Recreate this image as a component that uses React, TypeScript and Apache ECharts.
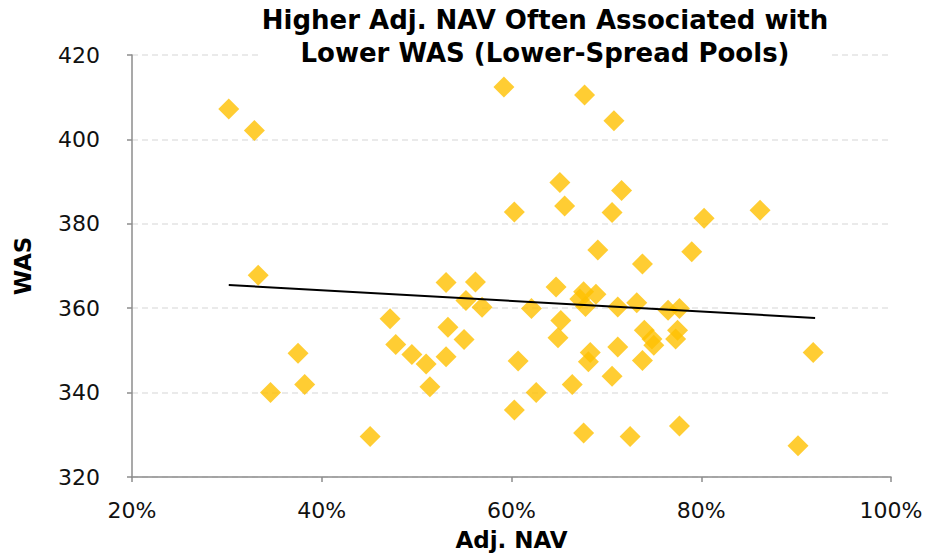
import React, { useEffect, useRef } from "react";
import * as echarts from "echarts";

// Adj. NAV (%) and WAS for each pool
const adjNav = [
  30.2, 32.9, 33.3, 34.6, 37.5, 38.2, 45.1, 47.2, 47.8, 49.5, 51.0, 51.4, 53.1, 53.3, 53.1, 55.2,
  55.0, 56.2, 56.9, 59.2, 60.3, 60.7, 60.3, 62.1, 62.6, 64.7, 65.1, 65.6, 65.2, 64.9, 66.4, 67.6,
  67.7, 67.6, 67.2, 67.8, 68.9, 68.3, 68.1, 69.1, 70.8, 70.6, 71.6, 71.2, 71.2, 70.6, 72.5, 73.2,
  73.8, 74.0, 74.8, 75.0, 73.8, 76.5, 77.7, 77.5, 77.3, 77.7, 79.0, 80.3, 86.2, 90.2, 91.8,
];
const was = [
  407.2, 402.1, 367.8, 340.0, 349.3, 341.9, 329.6, 357.5, 351.4, 349.0, 346.8, 341.4, 366.1, 355.5,
  348.5, 361.8, 352.6, 366.2, 360.2, 412.4, 382.8, 347.5, 335.9, 359.9, 340.0, 365.0, 389.8, 384.2,
  357.1, 353.0, 341.9, 330.4, 410.5, 363.9, 362.2, 360.4, 363.3, 349.5, 347.3, 373.8, 404.4, 382.7,
  387.9, 360.3, 350.8, 343.9, 329.6, 361.3, 370.5, 354.8, 352.7, 351.2, 347.6, 359.5, 359.9, 354.8,
  352.7, 332.1, 373.4, 381.3, 383.2, 327.4, 349.5,
];

// Linear trend endpoints (Adj. NAV %, WAS)
const trendNav = [30.2, 92.0];
const trendWas = [365.5, 357.7];

const xTicks = { min: 20, max: 100, interval: 20 };
const yTicks = { min: 320, max: 420, interval: 20 };

const titleLines = ["Higher Adj. NAV Often Associated with", "Lower WAS (Lower-Spread Pools)"];

const FONT = "'DejaVu Sans', Verdana, sans-serif";

export default function App() {
  const ref = useRef<HTMLDivElement>(null);

  useEffect(() => {
    if (!ref.current) return;
    const chart = echarts.init(ref.current, null, { renderer: "svg" });
    const axisLine = { show: true, lineStyle: { color: "#8c8c8c", width: 1.5 } };
    const axisTick = { show: true, length: 5, lineStyle: { color: "#8c8c8c", width: 1.5 } };
    chart.setOption({
      animation: false,
      backgroundColor: "#ffffff",
      graphic: [
        {
          type: "text",
          x: 545,
          y: 3,
          z: 10,
          style: {
            text: titleLines.join("\n"),
            textAlign: "center",
            fill: "#000000",
            font: `bold 26px ${FONT}`,
            lineHeight: 33,
            backgroundColor: "#ffffff",
          },
        },
      ],
      grid: { left: 132, right: 52, top: 55, bottom: 77, containLabel: false },
      xAxis: {
        type: "value",
        min: xTicks.min,
        max: xTicks.max,
        interval: xTicks.interval,
        name: "Adj. NAV",
        nameLocation: "middle",
        nameGap: 51,
        nameTextStyle: { fontFamily: FONT, fontWeight: "bold", fontSize: 23, color: "#000" },
        axisLine,
        axisTick,
        axisLabel: {
          formatter: (v: number) => `${v}%`,
          fontFamily: FONT,
          fontSize: 22,
          color: "#111",
          margin: 22,
        },
        splitLine: { show: false },
      },
      yAxis: {
        type: "value",
        min: yTicks.min,
        max: yTicks.max,
        interval: yTicks.interval,
        name: "WAS",
        nameLocation: "middle",
        nameGap: 98,
        nameRotate: 90,
        nameTextStyle: { fontFamily: FONT, fontWeight: "bold", fontSize: 23, color: "#000" },
        axisLine,
        axisTick,
        axisLabel: { fontFamily: FONT, fontSize: 22, color: "#111", margin: 32 },
        splitLine: { show: true, lineStyle: { color: "#e4e4e4", type: [6, 4], width: 1.5 } },
      },
      series: [
        {
          type: "scatter",
          symbol: "diamond",
          symbolSize: 21,
          itemStyle: { color: "#FFC000" },
          data: adjNav.map((x, i) => [x, was[i]]),
          z: 2,
        },
        {
          type: "line",
          data: trendNav.map((x, i) => [x, trendWas[i]]),
          symbol: "none",
          lineStyle: { color: "#000", width: 2 },
          z: 3,
        },
      ],
    });
    return () => chart.dispose();
  }, []);

  return (
    <div
      ref={ref}
      style={{ width: 943, height: 556, position: "fixed", left: 0, top: 0 }}
    />
  );
}
